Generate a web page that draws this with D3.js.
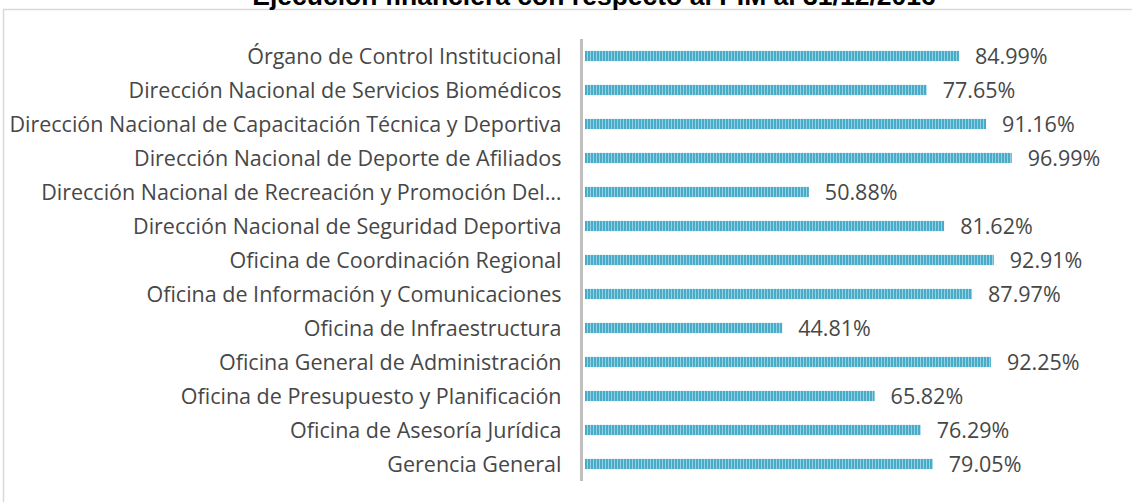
<!DOCTYPE html>
<html><head><meta charset="utf-8">
<script src="https://cdn.jsdelivr.net/npm/d3@7"></script>
<style>html,body{margin:0;padding:0;background:#fff;overflow:hidden}</style>
</head><body>
<script>
const categories = [
  "Órgano de Control Institucional",
  "Dirección Nacional de Servicios Biomédicos",
  "Dirección Nacional de Capacitación Técnica y Deportiva",
  "Dirección Nacional de Deporte de Afiliados",
  "Dirección Nacional de Recreación y Promoción Del…",
  "Dirección Nacional de Seguridad Deportiva",
  "Oficina de Coordinación Regional",
  "Oficina de Información y Comunicaciones",
  "Oficina de Infraestructura",
  "Oficina General de Administración",
  "Oficina de Presupuesto y Planificación",
  "Oficina de Asesoría Jurídica",
  "Gerencia General"
];
const values = [84.99, 77.65, 91.16, 96.99, 50.88, 81.62, 92.91, 87.97, 44.81, 92.25, 65.82, 76.29, 79.05];
const title = "Ejecución financiera con respecto al PIM al 31/12/2016";

const W = 1132, H = 502;
const svg = d3.select("body").append("svg").attr("width", W).attr("height", H);

const defs = svg.append("defs");
const pat = defs.append("pattern").attr("id","stripes").attr("patternUnits","userSpaceOnUse")
  .attr("width",3).attr("height",10);
pat.append("rect").attr("width",3).attr("height",10).attr("fill","#93d1e3");
pat.append("rect").attr("width",2).attr("height",10).attr("fill","#4aabc8");

// outer frame
svg.append("rect").attr("x",3.5).attr("y",9.5).attr("width",W+10).attr("height",H+10)
  .attr("fill","none").attr("stroke","#d9d9d9").attr("stroke-width",1.5);

// title
svg.append("text").attr("x",594).attr("y",5).attr("text-anchor","middle")
  .attr("font-family","Liberation Sans, Arial, sans-serif").attr("font-weight","bold")
  .attr("font-size",26.5).attr("fill","#000").text(title);

const x = d3.scaleLinear().domain([0,100]).range([585,1025]);
const y = d3.scaleBand().domain(categories).range([39,481]).paddingInner(0.7).paddingOuter(0.35);

// bars
svg.append("g").selectAll("rect").data(values).join("rect")
  .attr("x", x(0)).attr("y",(d,i)=>y(categories[i]))
  .attr("width", d=>x(d)-x(0)).attr("height", y.bandwidth())
  .attr("fill","url(#stripes)");

// axis
const yAxis = d3.axisLeft(y).tickSize(0).tickPadding(20);
const ag = svg.append("g").attr("transform",`translate(${x(0)-3.5},0)`).call(yAxis);
ag.select(".domain").attr("stroke","#bfbfbf").attr("stroke-width",3).attr("d","M0,39V481");
ag.selectAll("text").attr("font-family","Open Sans, sans-serif").attr("font-size",21.5)
  .attr("fill","#474747").attr("dy","0.35em");

// value labels
svg.append("g").selectAll("text").data(values).join("text")
  .attr("x", d=>x(d)+16).attr("y",(d,i)=>y(categories[i])+y.bandwidth()/2)
  .attr("dy","0.35em").attr("font-family","Open Sans, sans-serif").attr("font-size",21.5)
  .attr("fill","#474747").text(d=>d.toFixed(2)+"%");
</script>
</body></html>
